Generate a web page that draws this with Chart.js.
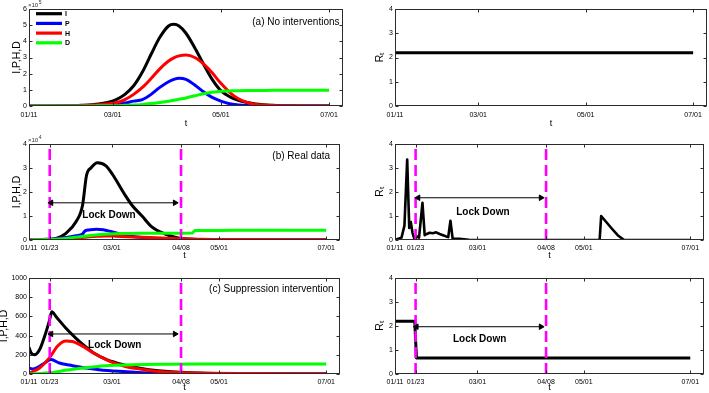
<!DOCTYPE html>
<html><head><meta charset="utf-8">
<script src="https://cdn.jsdelivr.net/npm/chart.js@4/dist/chart.umd.min.js"></script>
<style>
html,body{margin:0;padding:0;background:#fff;width:709px;height:393px;overflow:hidden}
canvas{position:absolute}
</style></head><body>
<canvas id="a1" width="345" height="130" style="left:0;top:0"></canvas>
<canvas id="a2" width="349" height="130" style="left:360px;top:0"></canvas>
<canvas id="b1" width="345" height="132" style="left:0;top:130px"></canvas>
<canvas id="b2" width="349" height="132" style="left:360px;top:130px"></canvas>
<canvas id="c1" width="345" height="131" style="left:0;top:262px"></canvas>
<canvas id="c2" width="349" height="131" style="left:360px;top:262px"></canvas>
<script>
// ---------- tick labels (x in days since 01/11) ----------
const ticksPlain = [0, 48, 110, 172];
const ticksPlainLabels = ['01/11', '03/01', '05/01', '07/01'];
const ticksLock = [0, 12, 48, 88, 110, 172];
const ticksLockLabels = ['01/11', '01/23', '03/01', '04/08', '05/01', '07/01'];
const lockDays = [12, 88];

// ---------- (a) No interventions, x10^5 ----------
const daysA = [0,10,20,30,40,45,50,55,60,65,70,75,80,83,86,90,95,100,105,110,115,120,125,130,140,150,160,172];
const aI = [0,.002,.01,.04,.12,.22,.4,.72,1.25,2.1,3.2,4.25,4.95,5.05,4.95,4.5,3.6,2.6,1.65,.95,.58,.35,.22,.13,.05,.015,.004,0];
const aP = [0,.001,.003,.01,.04,.06,.1,.18,.3,.4,.72,1.15,1.5,1.65,1.72,1.65,1.3,.88,.53,.3,.14,.07,.03,.01,0,0,0,0];
const aH = [0,.002,.005,.02,.07,.12,.2,.4,.72,1.15,1.7,2.3,2.78,2.98,3.1,3.15,3.0,2.6,2.05,1.4,.85,.45,.22,.1,.03,.01,0,0];
const aD = [0,0,0,0,.01,.015,.02,.04,.06,.1,.15,.22,.3,.36,.42,.5,.63,.76,.85,.91,.93,.95,.96,.96,.97,.97,.97,.97];
const aRtDays = [0, 172];
const aRt = [2.2, 2.2];

// ---------- (b) Real data, x10^4 ----------
const bIDays = [0,5,10,15.7,21.4,27.2,31,33.3,35.8,39.6,44.4,48.2,52,55.8,59.6,65.4,71.1,78.8,86.4,97.9,110,172];
const bI = [0,.01,.03,.07,.28,.76,1.45,2.7,3.0,3.22,3.1,2.75,2.3,1.85,1.45,1.0,.55,.25,.08,.02,0,0];
const bPDays = [0,10,15.7,21.4,27.2,31,32.5,35,39,43,46.6,50,55.8,60,65.4,71,78,86,100,172];
const bP = [0,.02,.05,.1,.18,.25,.38,.42,.45,.43,.37,.3,.2,.15,.1,.06,.03,.01,0,0];
const bHDays = [0,10,20,30,35,40,45,50,60,70,80,90,100,120,172];
const bH = [0,.01,.04,.1,.14,.16,.17,.16,.13,.1,.07,.05,.03,.02,.01];
const bDDays = [0,10,21.4,27,33,40,46,55,65,80,94.5,96,110,130,172];
const bD = [0,.02,.06,.12,.17,.22,.25,.27,.28,.28,.29,.4,.4,.41,.41];
const bRtDays = [0,3.8,5.5,7.1,8.3,9.2,10.2,11.5,12.8,14,16,17.3,18.5,20.2,22,24,26,28,29.8,31,32.3,33.6,37.5,43,60,119.2,120.1,126,129.7,133.5,172];
const bRt = [0,.1,.6,3.35,.5,.75,.3,0,.15,.1,1.55,.2,.25,.3,.28,.32,.25,.2,.15,.12,.8,.05,.05,.01,0,0,1.0,.5,.2,0,0];

// ---------- (c) Suppression intervention ----------
const cIDays = [0,1.3,3.2,6.1,9,11.9,13.2,15.7,21.4,27.2,32,37,45,55,65,75,90,110,130,172];
const cI = [279,217,200,252,390,562,648,597,476,372,295,225,150,95,58,35,15,5,2,0];
const cPDays = [0,2.3,6.1,9,12.8,17.6,25.2,32.8,40.5,52,65.4,88.3,110,172];
const cP = [62,52,79,115,150,114,86,62,45,28,14,3,1,0];
const cHDays = [0,6.1,11.9,16.7,21.4,25.2,31,36.7,42.5,48.2,55.8,65.4,78.8,97.9,130,172];
const cH = [10,62,170,295,345,338,290,225,170,120,78,48,22,10,5,3];
const cDDays = [0,6,12,21,30,40,50,60,80,100,130,172];
const cD = [0,4,12,38,60,79,90,97,102,104,105,105];
const cRtDays = [0, 11.5, 12.5, 172];
const cRt = [2.2, 2.2, 0.67, 0.67];

// ---------- helpers ----------
Chart.defaults.font.family = "'Liberation Sans', Arial, sans-serif";
Chart.defaults.color = '#000';
const FONT = "'Liberation Sans', Arial, sans-serif";
const xy = (d, v) => d.map((x, i) => ({x, y: v[i]}));
const series = (label, d, v, color, order, w, straight) => Object.assign({
  label, data: xy(d, v), borderColor: color, backgroundColor: color, borderWidth: w || 3,
  pointRadius: 0, tension: 0, order, legend: true, borderJoinStyle: 'round'
}, straight ? {} : {cubicInterpolationMode: 'monotone'});
const vline = (day, ymax) => ({
  data: [{x: day, y: 0}, {x: day, y: ymax}], borderColor: '#ff00ff', borderWidth: 2.6,
  borderDash: [11, 5], pointRadius: 0, order: -1
});
const arrow = (d0, d1, yv) => ({
  data: [{x: d0, y: yv}, {x: d1, y: yv}], borderColor: '#000', backgroundColor: '#000', borderWidth: 1,
  pointStyle: 'triangle', pointRadius: 3.2, pointRotation: [-90, 90], pointBorderWidth: 1, order: -2
});

const extras = {
  id: 'extras',
  afterDatasetsDraw(chart, args, o) {
    const {ctx, chartArea: a, scales: {x, y}} = chart;
    ctx.save();
    // box + inward ticks
    ctx.strokeStyle = '#2b2b2b'; ctx.lineWidth = 1;
    const L = Math.round(a.left) + 0.5, R = Math.round(a.right) - 0.5, T = Math.round(a.top) + 0.5, B = Math.round(a.bottom) - 0.5;
    ctx.strokeRect(L, T, R - L, B - T);
    ctx.beginPath();
    x.ticks.forEach(t => { const p = Math.round(x.getPixelForValue(t.value)) + 0.5; ctx.moveTo(p, B); ctx.lineTo(p, B - 3); ctx.moveTo(p, T); ctx.lineTo(p, T + 3); });
    y.ticks.forEach(t => { const p = Math.round(y.getPixelForValue(t.value)) + 0.5; ctx.moveTo(L, p); ctx.lineTo(L + 3, p); ctx.moveTo(R, p); ctx.lineTo(R - 3, p); });
    ctx.stroke();
    ctx.fillStyle = '#000';
    // panel title
    if (o.title) {
      ctx.font = '10px ' + FONT; ctx.textAlign = 'right'; ctx.textBaseline = 'middle';
      ctx.fillText(o.title.text, x.getPixelForValue(o.title.x), y.getPixelForValue(o.title.y));
    }
    // notes
    (o.notes || []).forEach(n => {
      ctx.font = 'bold 10px ' + FONT; ctx.textAlign = 'center'; ctx.textBaseline = 'middle';
      ctx.fillText(n.text, x.getPixelForValue(n.x), y.getPixelForValue(n.y));
    });
    // exponent
    if (o.exp) {
      ctx.textAlign = 'left'; ctx.textBaseline = 'alphabetic'; ctx.fillStyle = '#333';
      ctx.font = '6px ' + FONT;
      ctx.fillText('\u00d710', a.left - 1, a.top - 2.5);
      const w = ctx.measureText('\u00d710').width;
      ctx.font = '5px ' + FONT;
      ctx.fillText(o.exp, a.left - 1 + w + 0.5, a.top - 5);
      ctx.fillStyle = '#000';
    }
    // legend
    if (o.legend) {
      const items = chart.data.datasets.filter(d => d.legend);
      items.forEach((d, i) => {
        const yy = a.top + 4.7 + i * 9.7;
        ctx.strokeStyle = d.borderColor; ctx.lineWidth = 3.2;
        ctx.beginPath(); ctx.moveTo(a.left + 7, yy); ctx.lineTo(a.left + 33, yy); ctx.stroke();
        ctx.font = 'bold 7px ' + FONT; ctx.textAlign = 'left'; ctx.textBaseline = 'middle';
        ctx.fillText(d.label, a.left + 36, yy + 0.5);
      });
    }
    ctx.restore();
  }
};

function makeChart(id, g) {
  return new Chart(document.getElementById(id), {
    type: 'line',
    data: {datasets: g.datasets},
    plugins: [extras],
    options: {
      responsive: false, animation: false, events: [],
      layout: {padding: {top: g.padTop, right: 2, left: 0, bottom: 0}},
      plugins: {legend: {display: false}, tooltip: {enabled: false}, extras: g.extras},
      scales: {
        x: {
          type: 'linear', min: 0, max: 180,
          afterBuildTicks: s => { s.ticks = g.ticks.map(v => ({value: v})); },
          afterFit: s => { s.height = g.xH; },
          ticks: {autoSkip: false, maxRotation: 0, padding: g.tickPad, font: {size: 7}, callback: (v, i) => g.tickLabels[i]},
          grid: {display: false, drawTicks: false}, border: {display: false},
          title: {display: true, text: 't', font: {size: 9}, padding: {top: 0, bottom: g.tPad}}
        },
        y: {
          min: 0, max: g.yMax,
          afterBuildTicks: s => { const t = []; for (let v = 0; v <= g.yMax + 1e-9; v += g.yStep) t.push({value: v}); s.ticks = t; },
          afterFit: s => { s.width = g.yW; },
          ticks: {padding: 2, font: {size: 7}, callback: v => String(v)},
          grid: {display: false, drawTicks: false}, border: {display: false},
          title: {display: true, text: g.yTitle, font: {size: 10.5}, padding: {top: g.yTitlePad, bottom: 0}}
        }
      }
    }
  });
}

const left = {yW: 29, yTitle: 'I,P,H,D', yTitlePad: 10.5};
const right = {yW: 35, yTitle: 'R\u209C', yTitlePad: 14, yMax: 4, yStep: 1};

makeChart('a1', Object.assign({}, left, {
  padTop: 9, xH: 24, tPad: 1, tickPad: 4.5, yMax: 6, yStep: 1, ticks: ticksPlain, tickLabels: ticksPlainLabels,
  datasets: [series('I', daysA, aI, '#000', 3), series('P', daysA, aP, '#0000ff', 2), series('H', daysA, aH, '#ff0000', 1), series('D', daysA, aD, '#00ff00', 0)],
  extras: {legend: true, exp: '5', title: {text: '(a) No interventions', x: 178, y: 5.2}}
}));
makeChart('a2', Object.assign({}, right, {
  padTop: 9, xH: 24, tPad: 1, tickPad: 4.5, ticks: ticksPlain, tickLabels: ticksPlainLabels,
  datasets: [series('Rt', aRtDays, aRt, '#000', 0, 3, true)],
  extras: {}
}));
makeChart('b1', Object.assign({}, left, {
  padTop: 14, xH: 22, tPad: 1.2, tickPad: 3.5, yMax: 4, yStep: 1, ticks: ticksLock, tickLabels: ticksLockLabels,
  datasets: [series('I', bIDays, bI, '#000', 3), series('P', bPDays, bP, '#0000ff', 2), series('H', bHDays, bH, '#ff0000', 1), series('D', bDDays, bD, '#00ff00', 0),
    vline(lockDays[0], 4), vline(lockDays[1], 4), arrow(12.8, 84.5, 1.55)],
  extras: {exp: '4', title: {text: '(b) Real data', x: 174.3, y: 3.47}, notes: [{text: 'Lock Down', x: 46.3, y: 1.04}]}
}));
makeChart('b2', Object.assign({}, right, {
  padTop: 14, xH: 22, tPad: 1.2, tickPad: 3.5, ticks: ticksLock, tickLabels: ticksLockLabels,
  datasets: [series('Rt', bRtDays, bRt, '#000', 0, 2.6, true), vline(lockDays[0], 4), vline(lockDays[1], 4), arrow(13.5, 85, 1.76)],
  extras: {notes: [{text: 'Lock Down', x: 51.2, y: 1.15}]}
}));
makeChart('c1', Object.assign({}, left, {
  padTop: 16, xH: 19, tPad: 0.2, tickPad: 4, yMax: 1000, yStep: 200, yTitlePad: -2, ticks: ticksLock, tickLabels: ticksLockLabels,
  datasets: [series('I', cIDays, cI, '#000', 3), series('P', cPDays, cP, '#0000ff', 2), series('H', cHDays, cH, '#ff0000', 1), series('D', cDDays, cD, '#00ff00', 0),
    vline(lockDays[0], 1000), vline(lockDays[1], 1000), arrow(12.8, 84.5, 417)],
  extras: {title: {text: '(c) Suppression intervention', x: 176.3, y: 882}, notes: [{text: 'Lock Down', x: 49.6, y: 303}]}
}));
makeChart('c2', Object.assign({}, right, {
  padTop: 16, xH: 19, tPad: 0.2, tickPad: 4, ticks: ticksLock, tickLabels: ticksLockLabels,
  datasets: [series('Rt', cRtDays, cRt, '#000', 0, 3, true), vline(lockDays[0], 4), vline(lockDays[1], 4), arrow(12.5, 85, 1.97)],
  extras: {notes: [{text: 'Lock Down', x: 49.3, y: 1.43}]}
}));
</script>
</body></html>
